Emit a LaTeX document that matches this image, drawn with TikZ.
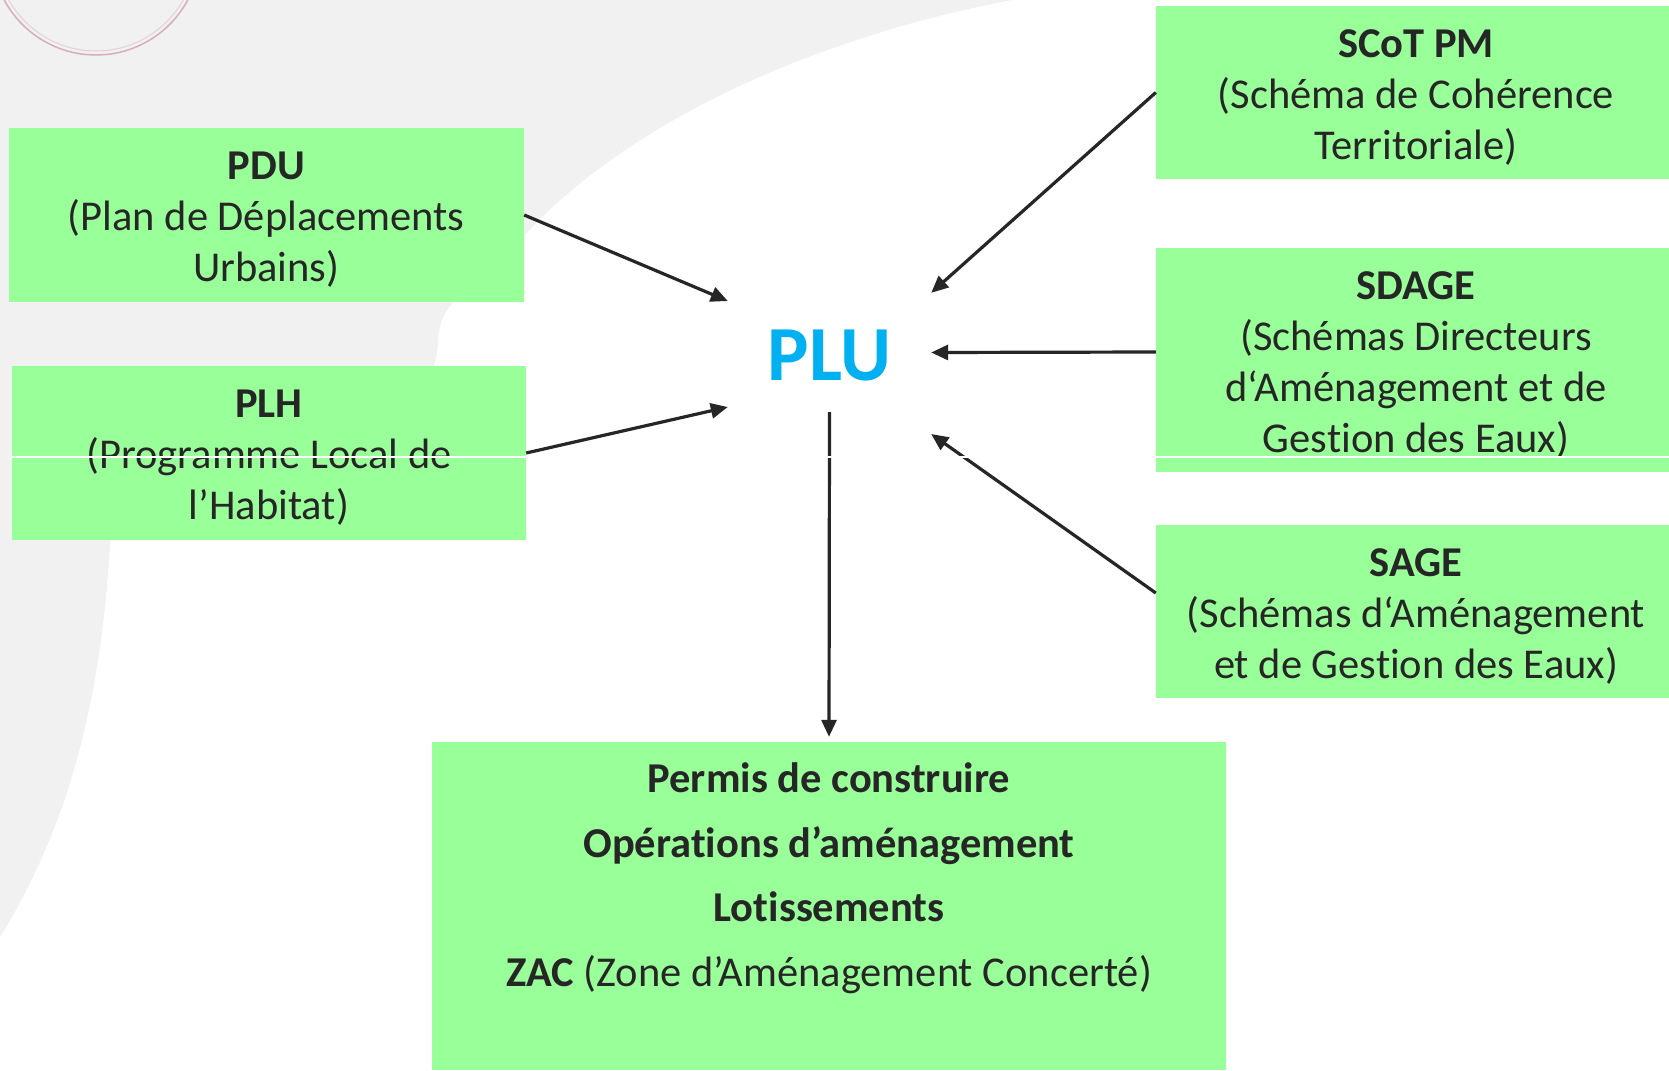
\documentclass[tikz,border=0pt]{standalone}
\usepackage{fontspec}
\setmainfont{Carlito}[Ligatures={TeX,NoCommon}]
\usepackage{tikz}
\usetikzlibrary{arrows.meta}
\definecolor{boxgreen}{HTML}{99FF99}
\definecolor{bggray}{HTML}{F1F1F1}
\definecolor{inkgray}{HTML}{262626}
\definecolor{plublue}{HTML}{00B0F0}
\definecolor{ringpink}{HTML}{D6AEBC}
\newcommand{\boxhead}[1]{\rule{0pt}{37pt}\textbf{#1}}

\begin{document}
\begin{tikzpicture}[x=1pt,y=-1pt,
  greenbox/.style={fill=boxgreen,text=inkgray,inner sep=0pt,align=center,font=\fontsize{42.5}{51}\selectfont},
  feed/.style={draw=inkgray,line width=3.2pt,-{Triangle[length=17pt,width=15pt]}}]
\useasboundingbox(0,0)rectangle(1669,1070);
\clip(0,0)rectangle(1669,1070);
\fill[white](0,0)rectangle(1669,1070);
\fill[bggray](0,0)--(1012,0)..controls(800,40)and(620,130)..(525,235)..controls(470,290)and(440,300)..(438,340)..controls(436,480)and(112,470)..(110,545)..controls(100,720)and(60,840)..(0,937)--cycle;
\draw[ringpink,line width=1.5pt](96,-49)circle(104pt);
\draw[ringpink!60,line width=1pt](96,-49)circle(100pt);
\node[greenbox,minimum width=515.5pt,minimum height=174pt](pdu)at(266.25,215){\boxhead{PDU}\\(Plan de Déplacements\\Urbains)};
\node[greenbox,minimum width=514pt,minimum height=174pt](plh)at(269,453){\boxhead{PLH}\\(Programme Local de\\l’Habitat)};
\node[greenbox,minimum width=520pt,minimum height=173pt](scot)at(1416,92.5){\boxhead{SCoT PM}\\(Schéma de Cohérence\\Territoriale)};
\node[greenbox,minimum width=520pt,minimum height=224pt](sdage)at(1416,360){\boxhead{SDAGE}\\(Schémas Directeurs\\d‘Aménagement et de\\Gestion des Eaux)};
\node[greenbox,minimum width=520pt,minimum height=173pt](sage)at(1416,611.5){\boxhead{SAGE}\\(Schémas d‘Aménagement\\et de Gestion des Eaux)};
\node[greenbox,minimum width=794pt,minimum height=328pt](acts)at(829,906){};
\node[text=inkgray,align=center,anchor=north,inner sep=0pt,font=\fontsize{42.5}{64.4}\selectfont](actstext)at([yshift=-21pt]acts.north){\textbf{Permis de construire}\\\textbf{Opérations d’aménagement}\\\textbf{Lotissements}\\\textbf{ZAC} (Zone d’Aménagement Concerté)};
\node[text=plublue,font=\fontsize{78}{90}\selectfont\bfseries,minimum width=203pt,minimum height=119pt,inner sep=0pt](plu)at(829.5,352.5){\raisebox{-2.5pt}[\height][\depth]{PLU}};
\draw[feed](pdu.east)--([yshift=51.5pt]plu.west);
\draw[feed](plh.east)--([yshift=-54.5pt]plu.west);
\draw[feed](scot.west)--(plu.north east);
\draw[feed]([yshift=8pt]sdage.west)--(plu.east);
\draw[feed]([yshift=18.5pt]sage.west)--([yshift=-81.5pt]plu.east);
\draw[feed](plu.south)--([yshift=5pt]acts.north);
\coordinate(seam)at([yshift=-4pt]plh.west);
\draw[white,line width=1.2pt](seam)--(seam-|sdage.east);
\end{tikzpicture}
\end{document}
